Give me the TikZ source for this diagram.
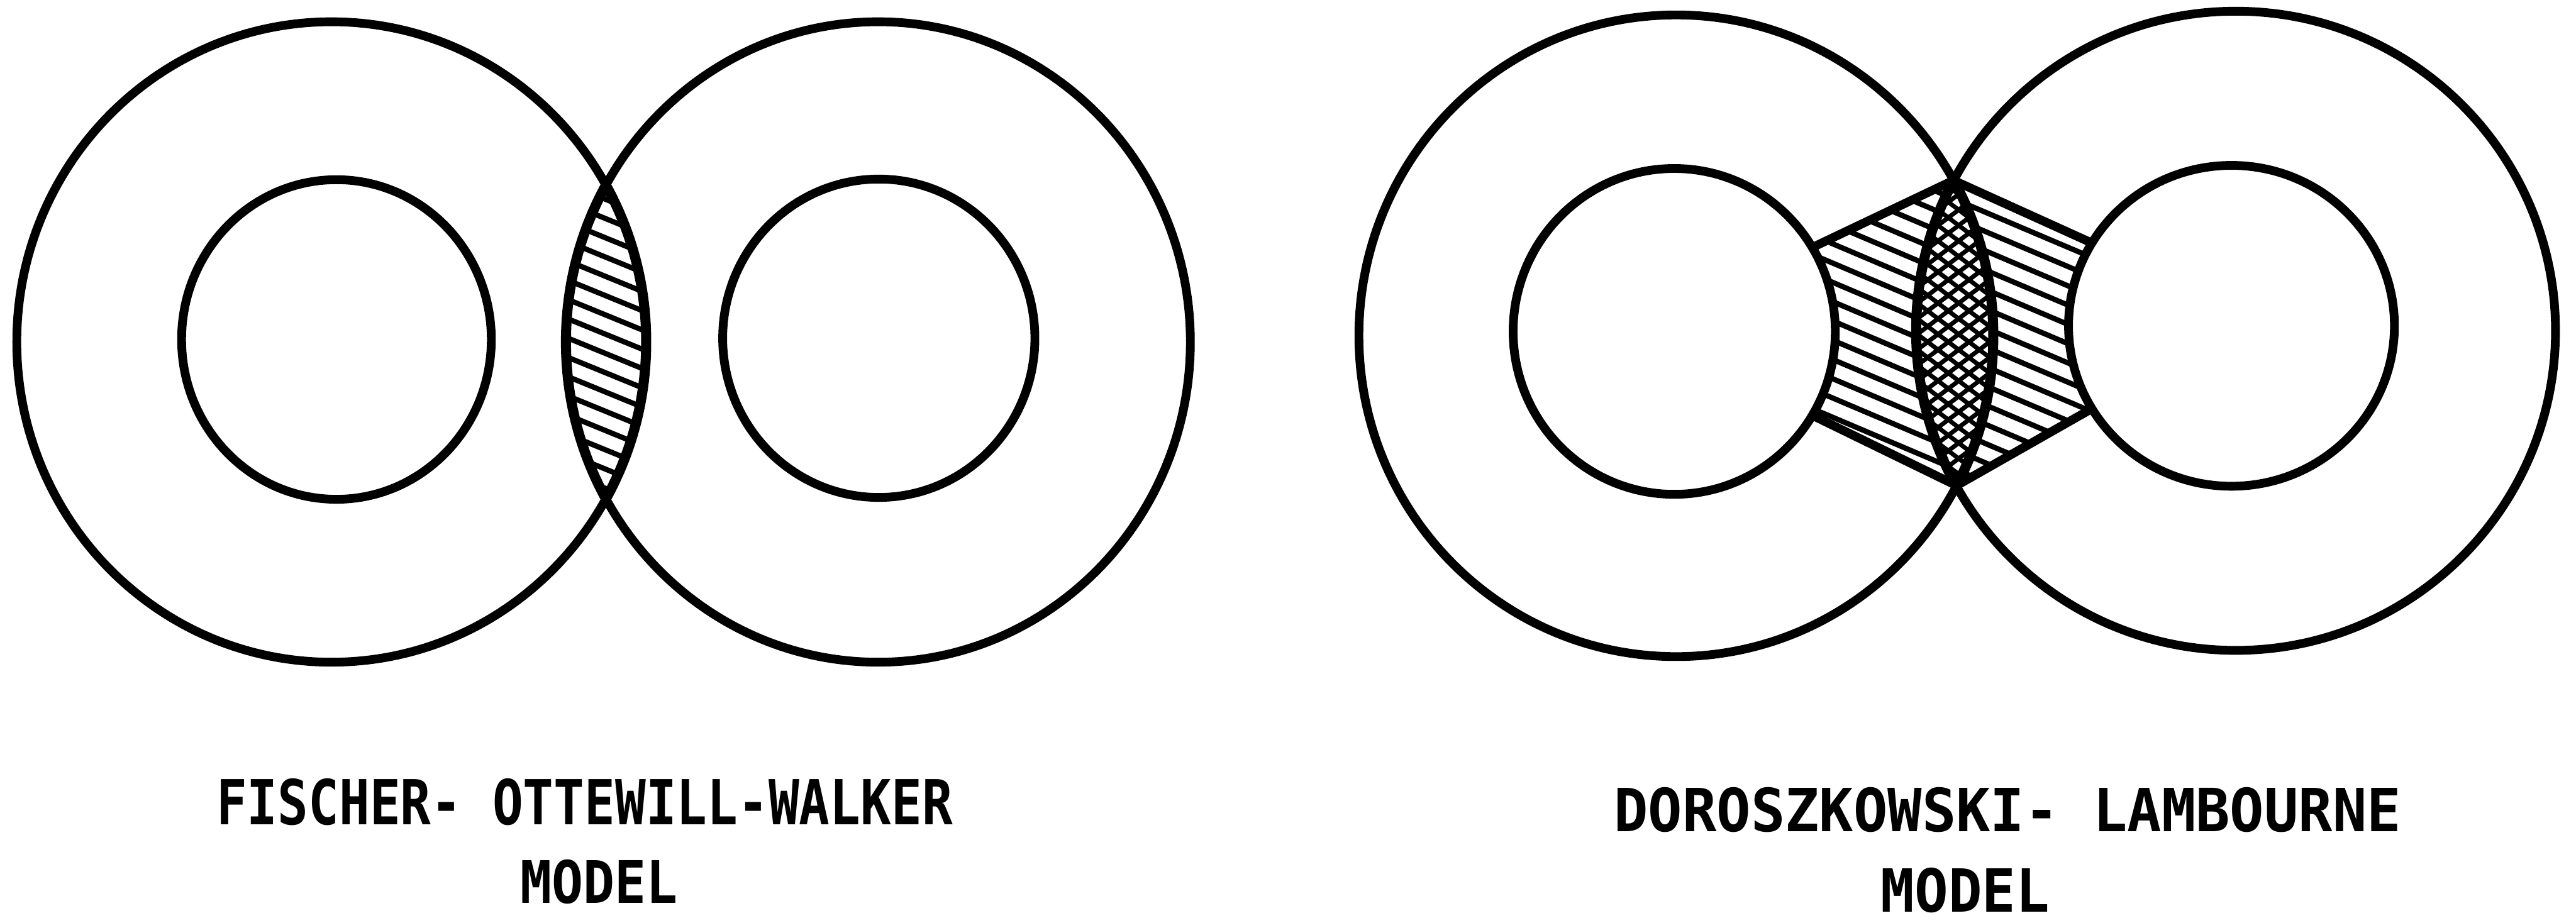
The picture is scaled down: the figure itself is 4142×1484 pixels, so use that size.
\documentclass[tikz,border=0pt]{standalone}
\usepackage{fontspec}
\usepackage{graphicx}
\newfontfamily\labelfont{DejaVu Sans Mono}
\begin{document}
\begin{tikzpicture}[x=0.01cm,y=-0.01cm,
  ring/.style={line width=4pt},
  hatchline/.style={line width=2.4pt},
  crossline/.style={line width=2pt},
  lensedge/.style={line width=4.6pt},
  hexedge/.style={line width=4pt,line cap=round},
  lbl/.style={inner sep=0pt,anchor=center}]
\useasboundingbox (0,0) rectangle (4142,1484);
\fill[white] (0,0) rectangle (4142,1484);

% ---------------- left figure ----------------
\coordinate (LA) at (533,550);
\coordinate (LB) at (1412,550);
\coordinate (la) at (541,546);
\coordinate (lb) at (1413,544);
\def\LApath{(LA) ellipse [x radius=506, y radius=515]}
\def\LBpath{(LB) ellipse [x radius=502, y radius=515]}
\begin{scope}
  \clip \LApath;
  \clip \LBpath;
  \foreach \k in {0,...,24} {
    \draw[hatchline] (860,{150+31*\k}) -- ++(220,90);
  }
\end{scope}
\draw[ring] \LApath;
\draw[ring] \LBpath;
\draw[ring] (la) ellipse [x radius=249, y radius=257];
\draw[ring] (lb) ellipse [x radius=251, y radius=256];
\begin{scope}
  \clip \LApath;
  \draw[lensedge] \LBpath;
\end{scope}
\begin{scope}
  \clip \LBpath;
  \draw[lensedge] \LApath;
\end{scope}

% ---------------- right figure ----------------
\coordinate (RA) at (2695,540);
\coordinate (RB) at (3595,532);
\coordinate (ra) at (2692,533);
\coordinate (rb) at (3588,524);
\def\RApath{(RA) ellipse [x radius=510, y radius=516]}
\def\RBpath{(RB) ellipse [x radius=514, y radius=514]}
\coordinate (T)  at (3141,290);
\coordinate (Bt) at (3146,781);
\coordinate (UL) at (2914,398);
\coordinate (LL) at (2914,668);
\coordinate (UR) at (3364,391);
\coordinate (LR) at (3364,657);
\begin{scope}
  \clip (T) -- (UL) -- (LL) -- (Bt) -- (LR) -- (UR) -- cycle;
  \foreach \k in {0,...,26} {
    \draw[hatchline] (2850,{10+31*\k}) -- ++(570,242);
  }
\end{scope}
\begin{scope}
  \clip \RApath;
  \clip \RBpath;
  \fill[white] (3000,200) rectangle (3300,850);
  \foreach \k in {0,...,40} {
    \draw[crossline] (3000,{0+25*\k}) -- ++(300,226);
    \draw[crossline] (3000,{250+25*\k}) -- ++(300,-226);
  }
\end{scope}
\draw[hexedge] (T) -- (UL);
\draw[hexedge] (LL) -- (Bt);
\draw[hexedge] (Bt) -- (LR);
\draw[hexedge] (UR) -- (T);
\draw[ring,fill=white] (ra) ellipse [x radius=259, y radius=262];
\draw[ring,fill=white] (rb) ellipse [x radius=262, y radius=258];
\draw[ring] \RApath;
\draw[ring] \RBpath;
\begin{scope}
  \clip \RApath;
  \draw[lensedge] \RBpath;
\end{scope}
\begin{scope}
  \clip \RBpath;
  \draw[lensedge] \RApath;
\end{scope}

% ---------------- labels ----------------
\node[lbl] (t1) at (940,1290) {\resizebox{11.83cm}{0.74cm}{\labelfont\bfseries FISCHER- OTTEWILL-WALKER}};
\node[lbl] (t2) at (963,1418) {\resizebox{2.53cm}{0.70cm}{\labelfont\bfseries MODEL}};
\node[lbl] (t3) at (3228,1302) {\resizebox{12.65cm}{0.71cm}{\labelfont\bfseries DOROSZKOWSKI- LAMBOURNE}};
\node[lbl] (t4) at (3160,1432) {\resizebox{2.71cm}{0.71cm}{\labelfont\bfseries MODEL}};
\end{tikzpicture}
\end{document}
